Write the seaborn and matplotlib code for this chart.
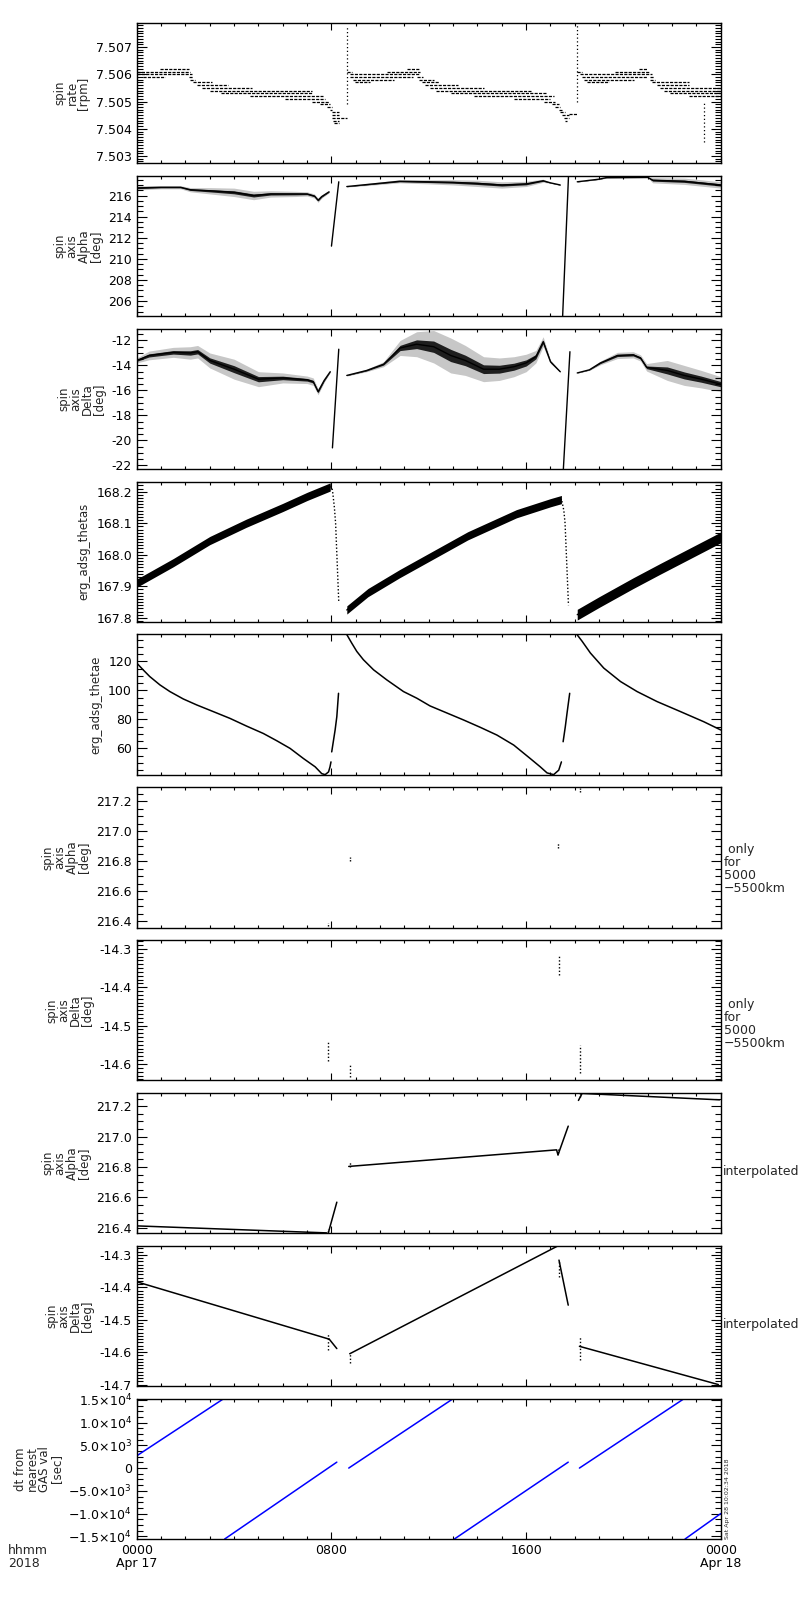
import numpy as np
import pandas as pd
import seaborn as sns
import matplotlib.pyplot as plt
from matplotlib.ticker import MultipleLocator, FixedLocator, AutoMinorLocator, FormatStrFormatter

# time axis (hours from 0000 Apr 17)
hours_major = [0, 8, 16, 24]
xtick_labels = ['0000\nApr 17', '0800', '1600', '0000\nApr 18']

# panel 1: spin rate, quantised levels drawn as runs (level, start, end)
rate_lvl = [7.5062, 7.5061, 7.5060, 7.5059, 7.5059, 7.5058, 7.5057, 7.5056, 7.5055, 7.5054, 7.5053,
            7.5052, 7.5051, 7.5050, 7.5049, 7.5048, 7.5047, 7.5046, 7.5045, 7.5044, 7.5043, 7.5042,
            7.5061, 7.5060, 7.5059, 7.5058, 7.5057, 7.5061, 7.5062, 7.5059, 7.5058, 7.5057, 7.5056,
            7.5055, 7.5054, 7.5053, 7.5052, 7.5051, 7.5050, 7.5049, 7.5048, 7.5047, 7.5046, 7.5045,
            7.5044, 7.5043, 7.50455,
            7.5061, 7.5060, 7.5059, 7.5058, 7.5057, 7.5061, 7.5062, 7.5059, 7.5058, 7.5057, 7.5056,
            7.5055, 7.5054, 7.5053, 7.5052]
rate_t0 = [0.95, 0.0, 0.0, 0.26, 2.15, 2.18, 2.32, 2.46, 2.66, 3.0, 3.48,
           4.65, 6.09, 7.19, 7.53, 7.81, 7.92, 8.01, 8.01, 8.01, 8.08, 8.11,
           8.63, 8.77, 8.77, 8.9, 8.97, 10.27, 11.1, 11.51, 11.58, 11.71, 11.85,
           12.06, 12.3, 12.9, 13.84, 15.49, 16.72, 17.06, 17.2, 17.34, 17.4, 17.48,
           17.55, 17.61, 17.75,
           18.09, 18.23, 18.3, 18.37, 18.51, 19.67, 20.63, 21.11, 21.11, 21.18, 21.38,
           21.52, 21.66, 21.93, 22.69]
rate_t1 = [2.15, 2.2, 2.25, 1.15, 2.32, 2.39, 3.11, 3.76, 4.72, 7.19, 7.19,
           7.67, 7.74, 7.88, 7.94, 8.01, 8.01, 8.29, 8.29, 8.63, 8.29, 8.29,
           8.83, 11.65, 11.37, 10.55, 9.59, 11.65, 11.58, 11.78, 12.2, 12.4, 13.2,
           14.25, 16.2, 16.86, 17.13, 17.0, 17.2, 17.34, 17.4, 17.48, 17.61, 17.75,
           17.75, 17.68, 18.09,
           18.3, 21.18, 20.97, 20.42, 19.39, 21.04, 20.97, 21.25, 21.31, 22.69, 22.69,
           24.0, 24.0, 24.0, 24.0]
rate_spike_t = [8.63, 18.09, 23.3]
rate_spike_lo = [7.5049, 7.5050, 7.5035]
rate_spike_hi = [7.50776, 7.50788, 7.5050]

# panel 2: spin axis Alpha (centre of the noisy band and its half width)
alpha_t = [[0, 1, 1.8, 2.2, 3.0, 4.0, 4.8, 5.5, 6.5, 7.0, 7.3, 7.45, 7.6, 7.9],
           [8.63, 9.5, 10.8, 12.0, 13.0, 14.0, 15.0, 16.0, 16.7, 17.0, 17.4],
           [18.1, 19.0, 19.3, 21.0, 21.2, 22.5, 24.0]]
alpha_c = [[216.72, 216.78, 216.78, 216.55, 216.45, 216.3, 216.0, 216.15, 216.15, 216.15, 215.95, 215.55, 215.9, 216.35],
           [216.85, 217.05, 217.35, 217.3, 217.25, 217.15, 217.0, 217.1, 217.4, 217.2, 217.0],
           [217.3, 217.55, 217.7, 217.72, 217.45, 217.35, 217.0]]
alpha_w = [[0.2, 0.15, 0.15, 0.2, 0.3, 0.4, 0.4, 0.3, 0.25, 0.2, 0.2, 0.2, 0.15, 0.1],
           [0.05, 0.1, 0.15, 0.2, 0.25, 0.3, 0.3, 0.25, 0.15, 0.05, 0.05],
           [0.03, 0.05, 0.05, 0.05, 0.25, 0.3, 0.3]]
alpha_jump_t = [[8.0, 8.3], [17.5, 17.74]]
alpha_jump_v = [[211.2, 217.3], [204.55, 217.8]]

# panel 3: spin axis Delta
delta_t = [[0, 0.5, 1.5, 2.2, 2.5, 3.0, 4.0, 5.0, 6.0, 7.0, 7.25, 7.45, 7.7, 7.95],
           [8.63, 9.45, 10.14, 10.82, 11.5, 12.2, 12.9, 13.5, 14.25, 14.9, 15.5, 16.0, 16.4, 16.7, 17.0, 17.4],
           [18.1, 18.6, 19.05, 19.75, 20.4, 20.7, 20.95, 21.8, 22.5, 23.2, 24.0]]
delta_c = [[-13.6, -13.2, -12.95, -13.0, -12.9, -13.6, -14.3, -15.1, -15.0, -15.15, -15.3, -16.1, -15.2, -14.5],
           [-14.8, -14.4, -13.9, -12.6, -12.3, -12.5, -13.2, -13.6, -14.3, -14.3, -14.1, -13.8, -13.3, -12.1, -13.7, -14.5],
           [-14.6, -14.35, -13.8, -13.2, -13.15, -13.4, -14.15, -14.4, -14.8, -15.1, -15.5]]
delta_w = [[0.2, 0.35, 0.4, 0.5, 0.5, 0.6, 0.8, 0.6, 0.4, 0.3, 0.3, 0.25, 0.15, 0.05],
           [0.05, 0.1, 0.2, 0.6, 1.0, 1.3, 1.4, 1.2, 1.0, 0.9, 0.8, 0.7, 0.5, 0.4, 0.15, 0.05],
           [0.02, 0.05, 0.15, 0.25, 0.25, 0.25, 0.3, 0.8, 0.8, 0.7, 0.6]]
delta_jump_t = [[8.04, 8.3], [17.53, 17.8]]
delta_jump_v = [[-20.6, -12.7], [-22.3, -12.9]]

# panel 4: erg_adsg_thetas
thetas_t = [[0, 1.5, 3.0, 4.5, 6.0, 7.0, 7.95],
            [8.63, 9.5, 10.8, 12.2, 13.6, 15.6, 17.0, 17.45],
            [18.1, 19.0, 20.4, 21.5, 22.5, 24.0]]
thetas_v = [[167.91, 167.975, 168.045, 168.1, 168.15, 168.185, 168.215],
            [167.825, 167.88, 167.94, 168.0, 168.06, 168.13, 168.165, 168.175],
            [167.81, 167.85, 167.91, 167.955, 167.995, 168.055]]
thetas_w = [0.013, 0.013, 0.017]
thetas_drop_t = [[7.98, 8.04, 8.12, 8.17, 8.3], [17.47, 17.55, 17.6, 17.74]]
thetas_drop_v = [[168.22, 168.205, 168.15, 168.1, 167.85], [168.17, 168.14, 168.1, 167.84]]

# panel 5: erg_adsg_thetae
thetae_t = [[0, 0.26, 0.53, 0.95, 1.36, 1.91, 2.46, 3.14, 3.83, 4.51, 5.2, 5.75, 6.3, 6.85, 7.33, 7.6, 7.74,
             7.88, 7.94, 7.98],
            [8.01, 8.15, 8.22, 8.29],
            [8.63, 8.83, 9.04, 9.31, 9.73, 10.27, 10.96, 11.51, 12.05, 13.43, 14.12, 14.8, 15.49, 16.17,
             16.58, 16.86, 17.13, 17.34, 17.45],
            [17.52, 17.61, 17.68, 17.79],
            [18.09, 18.3, 18.64, 19.19, 19.88, 20.56, 21.38, 22.34, 23.3, 24.0]]
thetae_v = [[118.8, 114.2, 109.6, 103.8, 99.2, 94.1, 90.0, 85.4, 80.7, 75.4, 70.3, 65.3, 60.0, 53.0, 47.3, 42.6, 41.9,
             43.8, 47.3, 50.7],
            [57.6, 72.7, 81.9, 98.0],
            [138.5, 132.7, 126.9, 121.2, 114.2, 107.3, 99.2, 94.6, 89.3, 79.6, 74.5, 69.2, 62.3, 53.0,
             47.3, 43.1, 41.9, 45.0, 50.7],
            [64.6, 75.0, 84.2, 98.0],
            [138.5, 133.9, 125.8, 115.4, 106.1, 99.2, 92.3, 85.4, 78.4, 72.7]]

# panels 6/7: values only for 5000-5500 km (short bursts)
only_alpha_t = [7.87, 8.75, 17.31, 18.23]
only_alpha_lo = [216.37, 216.80, 216.89, 217.26]
only_alpha_hi = [216.39, 216.83, 216.92, 217.29]
only_delta_t = [7.87, 8.75, 17.35, 18.23]
only_delta_lo = [-14.593, -14.633, -14.369, -14.624]
only_delta_hi = [-14.541, -14.602, -14.315, -14.55]

# panels 8/9: interpolated
interp_alpha_t = [[0, 7.8], [7.87, 8.22], [8.71, 17.25, 17.31], [17.31, 17.73], [18.15, 18.3, 23.95]]
interp_alpha_v = [[216.413, 216.367], [216.367, 216.569], [216.804, 216.913, 216.88], [216.88, 217.069],
                  [217.238, 217.284, 217.242]]
interp_delta_t = [[0, 7.91], [7.91, 8.22], [8.75, 17.31], [17.35, 17.73], [18.19, 23.9]]
interp_delta_v = [[-14.383, -14.560], [-14.560, -14.589], [-14.605, -14.272], [-14.316, -14.455], [-14.582, -14.70]]

# panel 10: dt from nearest GAS val
dt_t = [[0, 3.57], [3.61, 8.22], [8.71, 13.0], [13.05, 17.73], [18.19, 22.49], [22.53, 24.0]]
dt_v = [[2700, 15250], [-15600, 1300], [0, 15250], [-15600, 1300], [0, 15250], [-15600, -10000]]
dt_ticks = [-15000, -10000, -5000, 0, 5000, 10000, 15000]
dt_labels = ['\u22121.5\u00d710$^4$', '\u22121.0\u00d710$^4$', '\u22125.0\u00d710$^3$', '0',
             '5.0\u00d710$^3$', '1.0\u00d710$^4$', '1.5\u00d710$^4$']


def seg_frame(ts, vs):
    rows = []
    for i, (tt, vv) in enumerate(zip(ts, vs)):
        for t, v in zip(tt, vv):
            rows.append((i, t, v))
    return pd.DataFrame(rows, columns=['seg', 't', 'v'])


def draw_segs(ax, ts, vs, color='k', lw=1.0, **kw):
    df = seg_frame(ts, vs)
    sns.lineplot(data=df, x='t', y='v', units='seg', estimator=None, sort=False,
                 color=color, lw=lw, legend=False, ax=ax, **kw)


def draw_band(ax, ts, cs, ws, core=0.35):
    for tt, cc, ww in zip(ts, cs, ws):
        tt, cc, ww = np.array(tt), np.array(cc), np.array(ww)
        ax.fill_between(tt, cc - ww, cc + ww, color='k', alpha=0.22, lw=0)
        ax.fill_between(tt, cc - core * ww, cc + core * ww, color='k', alpha=0.85, lw=0)
    draw_segs(ax, ts, cs, lw=1.0)


def style_axis(ax, ylim, major, minor_n, fmt=None, label=''):
    ax.set_xlim(0, 24)
    ax.set_ylim(*ylim)
    ax.xaxis.set_major_locator(FixedLocator(hours_major))
    ax.xaxis.set_minor_locator(MultipleLocator(1))
    if major is not None:
        ax.yaxis.set_major_locator(MultipleLocator(major))
    ax.yaxis.set_minor_locator(AutoMinorLocator(minor_n))
    if fmt:
        ax.yaxis.set_major_formatter(FormatStrFormatter(fmt))
    ax.tick_params(axis='both', which='both', direction='in', top=True, right=True,
                   labelsize=9, width=0.8, colors='k')
    ax.tick_params(axis='y', which='major', length=7.5)
    ax.tick_params(axis='y', which='minor', length=4)
    ax.tick_params(axis='x', which='major', length=5)
    ax.tick_params(axis='x', which='minor', length=2)
    for s in ax.spines.values():
        s.set_linewidth(1.0)
        s.set_color('k')
    ax.set_xlabel('')
    ax.set_ylabel(label, fontsize=8.5, linespacing=0.9)


sns.set_style('ticks')
plt.rcParams['font.family'] = ['DejaVu Sans']

fig, axes = plt.subplots(10, 1, figsize=(8, 16), dpi=100, sharex=True)
fig.subplots_adjust(left=0.171, right=0.901, top=0.9856, bottom=0.0381, hspace=0.089)

# 1 spin rate
ax = axes[0]
rate_runs_t = [[a, b] for a, b in zip(rate_t0, rate_t1)]
rate_runs_v = [[v, v] for v in rate_lvl]
draw_segs(ax, rate_runs_t, rate_runs_v, lw=0.9, dashes=(2.5, 1))
draw_segs(ax, [[t, t] for t in rate_spike_t], [[a, b] for a, b in zip(rate_spike_lo, rate_spike_hi)],
          lw=0.9, dashes=(1, 2))
style_axis(ax, (7.50273, 7.50788), 0.001, 10, '%.3f', 'spin\nrate\n[rpm]')

# 2 spin axis Alpha
ax = axes[1]
draw_band(ax, alpha_t, alpha_c, alpha_w)
draw_segs(ax, alpha_jump_t, alpha_jump_v, lw=1.0)
style_axis(ax, (204.55, 217.86), 2, 4, '%d', 'spin\naxis\nAlpha\n[deg]')

# 3 spin axis Delta
ax = axes[2]
draw_band(ax, delta_t, delta_c, delta_w)
draw_segs(ax, delta_jump_t, delta_jump_v, lw=1.0)
style_axis(ax, (-22.3, -11.06), 2, 4, '%d', 'spin\naxis\nDelta\n[deg]')

# 4 thetas
ax = axes[3]
for tt, vv, w in zip(thetas_t, thetas_v, thetas_w):
    ax.fill_between(np.array(tt), np.array(vv) - w, np.array(vv) + w, color='k', lw=0)
draw_segs(ax, thetas_t, thetas_v, lw=1.0)
draw_segs(ax, thetas_drop_t, thetas_drop_v, lw=1.0, dashes=(1, 1.5))
style_axis(ax, (167.787, 168.232), 0.1, 10, '%.1f', 'erg_adsg_thetas')

# 5 thetae
ax = axes[4]
draw_segs(ax, thetae_t, thetae_v, lw=1.1)
style_axis(ax, (41.8, 138.6), 20, 4, '%d', 'erg_adsg_thetae')

# 6 Alpha only 5000-5500 km
ax = axes[5]
only_a_t = [[t, t] for t in only_alpha_t]
only_a_v = [[a, b] for a, b in zip(only_alpha_lo, only_alpha_hi)]
draw_segs(ax, only_a_t, only_a_v, lw=1.0, dashes=(1, 1))
style_axis(ax, (216.356, 217.293), 0.2, 4, '%.1f', 'spin\naxis\nAlpha\n[deg]')
ax.text(1.005, 0.42, ' only\nfor\n5000\n\u22125500km', transform=ax.transAxes, ha='left', va='center',
        fontsize=9, linespacing=1.0)

# 7 Delta only 5000-5500 km
ax = axes[6]
only_d_t = [[t, t] for t in only_delta_t]
only_d_v = [[a, b] for a, b in zip(only_delta_lo, only_delta_hi)]
draw_segs(ax, only_d_t, only_d_v, lw=1.0, dashes=(1, 1.5))
style_axis(ax, (-14.643, -14.277), 0.1, 10, '%.1f', 'spin\naxis\nDelta\n[deg]')
ax.text(1.005, 0.4, ' only\nfor\n5000\n\u22125500km', transform=ax.transAxes, ha='left', va='center',
        fontsize=9, linespacing=1.0)

# 8 Alpha interpolated
ax = axes[7]
draw_segs(ax, interp_alpha_t, interp_alpha_v, lw=1.1)
draw_segs(ax, only_a_t, only_a_v, lw=1.0, dashes=(1, 1))
style_axis(ax, (216.364, 217.287), 0.2, 4, '%.1f', 'spin\naxis\nAlpha\n[deg]')
ax.text(1.003, 0.44, 'interpolated', transform=ax.transAxes, ha='left', va='center', fontsize=9)

# 9 Delta interpolated
ax = axes[8]
draw_segs(ax, interp_delta_t, interp_delta_v, lw=1.1)
draw_segs(ax, only_d_t, only_d_v, lw=1.0, dashes=(1, 1.5))
style_axis(ax, (-14.705, -14.272), 0.1, 10, '%.1f', 'spin\naxis\nDelta\n[deg]')
ax.text(1.003, 0.44, 'interpolated', transform=ax.transAxes, ha='left', va='center', fontsize=9)

# 10 dt from nearest GAS value
ax = axes[9]
draw_segs(ax, dt_t, dt_v, color='#0000ff', lw=1.1)
style_axis(ax, (-15600, 15250), None, 4, None, 'dt from\nnearest\nGAS val\n[sec]')
ax.yaxis.set_major_locator(FixedLocator(dt_ticks))
ax.set_yticklabels(dt_labels)
ax.set_xticks(hours_major)
ax.set_xticklabels(xtick_labels, fontsize=9, linespacing=1.0)
ax.text(1.008, 0.0, 'Sat Apr 28 10:02:34 2018', transform=ax.transAxes, rotation=90,
        ha='left', va='bottom', fontsize=4.5)

fig.text(0.01, 1 - 1544 / 1600, 'hhmm\n2018', ha='left', va='top', fontsize=9, linespacing=1.0)

fig.savefig('out.png', dpi=100)
